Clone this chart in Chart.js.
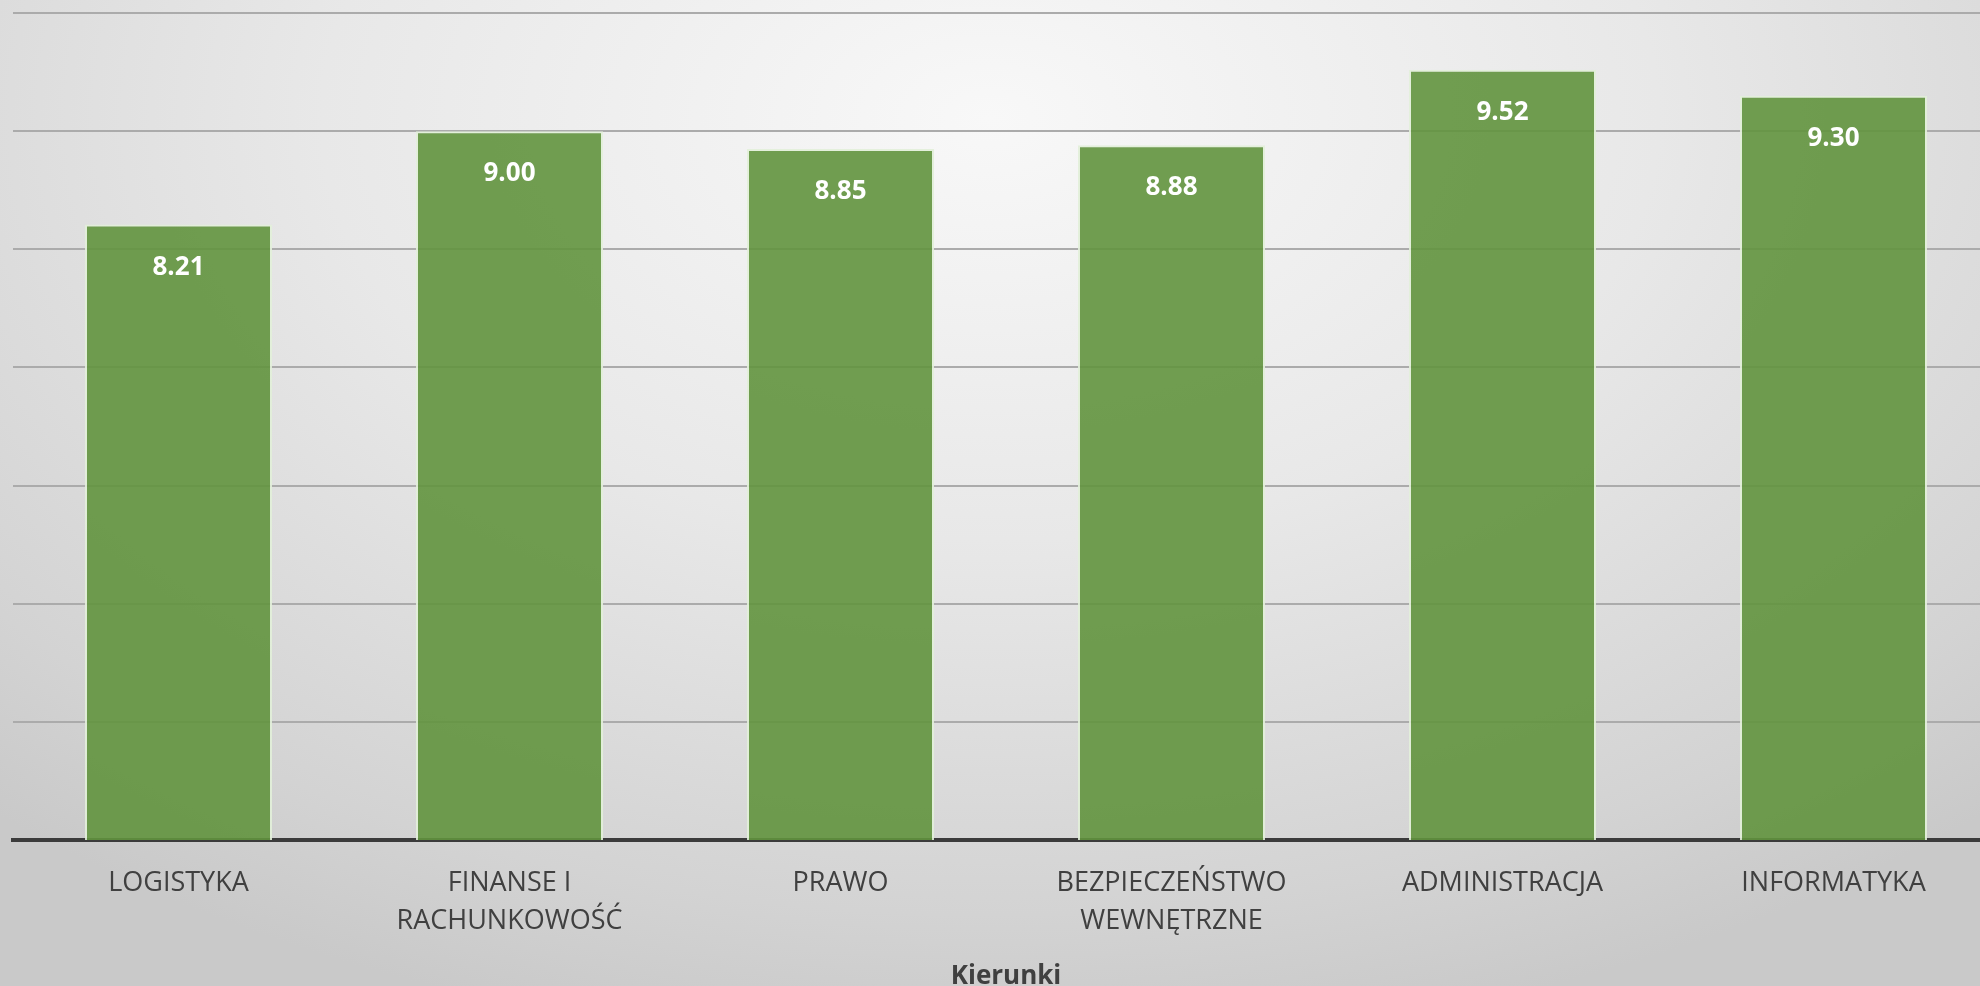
<!DOCTYPE html>
<html>
<head>
<meta charset="utf-8">
<script src="https://cdn.jsdelivr.net/npm/chart.js@4"></script>
<style>
  html, body { margin: 0; padding: 0; overflow: hidden; width: 1980px; height: 986px; }
  body { background: radial-gradient(ellipse 75% 95% at 50% 12%, #f8f8f8 0%, #e8e8e8 45%, #d3d3d3 85%, #c9c9c9 100%); }
  #wrap { position: absolute; left: 0; top: 0; width: 2000px; height: 996px; }
</style>
</head>
<body>
<div id="wrap"><canvas id="myChart"></canvas></div>
<script>
const kierunki = [
  'LOGISTYKA',
  ['FINANSE I', 'RACHUNKOWOŚĆ'],
  'PRAWO',
  ['BEZPIECZEŃSTWO', 'WEWNĘTRZNE'],
  'ADMINISTRACJA',
  'INFORMATYKA'
];
const srednie = [8.21, 9.00, 8.85, 8.88, 9.52, 9.30];
const osY = { min: 3, max: 10, krok: 1 };
const tytulX = 'Kierunki';

// etykiety z wartoscia w srodku slupka, u gory
const etykiety = {
  id: 'etykiety',
  afterDatasetsDraw(chart) {
    const ctx = chart.ctx;
    const meta = chart.getDatasetMeta(0);
    ctx.save();
    ctx.fillStyle = '#ffffff';
    ctx.font = 'bold 26px "Open Sans"';
    ctx.textAlign = 'center';
    ctx.textBaseline = 'alphabetic';
    meta.data.forEach((bar, i) => {
      ctx.fillText(srednie[i].toFixed(2), bar.x, bar.y + 50);
    });
    ctx.restore();
  }
};

const ctx = document.getElementById('myChart');
const myChart = new Chart(ctx, {
  type: 'bar',
  data: {
    labels: kierunki,
    datasets: [{
      data: srednie,
      backgroundColor: 'rgba(98, 147, 62, 0.9)',
      borderColor: 'rgba(226, 240, 217, 0.9)',
      borderWidth: { left: 2, right: 2, top: 2, bottom: 0 },
      borderSkipped: false,
      categoryPercentage: 1,
      barPercentage: 0.565
    }]
  },
  options: {
    responsive: true,
    maintainAspectRatio: false,
    animation: false,
    layout: { padding: { left: 13, right: 1, top: 13, bottom: 4 } },
    plugins: {
      legend: { display: false },
      tooltip: { enabled: false }
    },
    scales: {
      x: {
        grid: { display: false },
        border: { display: true, color: '#3b3b3b', width: 4 },
        ticks: {
          color: '#404040',
          font: { family: '"Open Sans"', size: 27, lineHeight: 1.42 },
          padding: 16,
          maxRotation: 0,
          autoSkip: false
        },
        title: {
          display: true,
          text: tytulX,
          color: '#404040',
          font: { family: '"Open Sans"', size: 26, weight: 'bold' },
          padding: { top: 4, bottom: 0 }
        }
      },
      y: {
        min: osY.min,
        max: osY.max,
        ticks: { display: false, stepSize: osY.krok },
        border: { display: false },
        grid: { color: '#ababab', lineWidth: 2, drawTicks: false }
      }
    }
  },
  plugins: [etykiety]
});
</script>
</body>
</html>
